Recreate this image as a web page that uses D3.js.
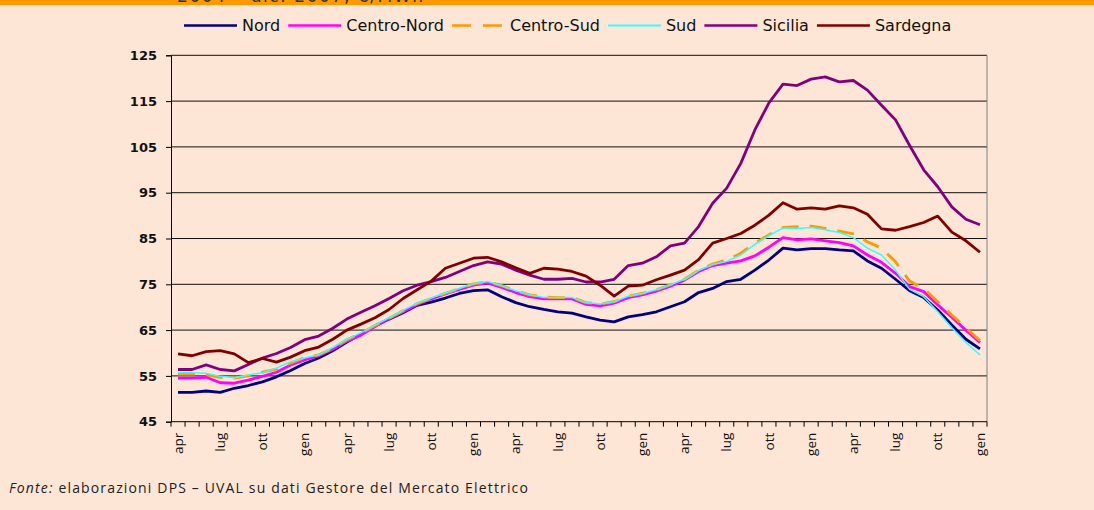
<!DOCTYPE html>
<html lang="it">
<head>
<meta charset="utf-8">
<title>Prezzi zonali</title>
<script src="https://cdn.jsdelivr.net/npm/d3@7"></script>
<style>
  body { margin: 0; background: #fde6d5; }
  svg { display: block; }
  .ytick text { font: bold 13px "DejaVu Sans", sans-serif; fill: #111; }
  .xlab { font: 13.5px "Open Sans", sans-serif; fill: #111; }
  .legend text { font: 16px "DejaVu Sans", sans-serif; fill: #111; }
</style>
</head>
<body>
<div id="chart"></div>
<script>
var width = 1094,
    height = 510;

// one entry per month, apr (first year) .. gen (last year)
var months = ["apr","mag","giu","lug","ago","set","ott","nov","dic","gen","feb","mar",
              "apr","mag","giu","lug","ago","set","ott","nov","dic","gen","feb","mar",
              "apr","mag","giu","lug","ago","set","ott","nov","dic","gen","feb","mar",
              "apr","mag","giu","lug","ago","set","ott","nov","dic","gen","feb","mar",
              "apr","mag","giu","lug","ago","set","ott","nov","dic","gen"];

var yTicks = [45, 55, 65, 75, 85, 95, 105, 115, 125];

var nord = [51.4, 51.4, 51.7, 51.4, 52.3, 52.9, 53.7, 54.8, 56.2, 57.7, 58.9, 60.5, 62.4, 64.1, 65.9, 67.4, 68.8, 70.4, 71.1, 72.0,
            73.0, 73.6, 73.8, 72.3, 71.0, 70.1, 69.5, 69.0, 68.7, 67.9, 67.2, 66.8, 67.9, 68.4, 69.0, 70.1,
            71.2, 73.2, 74.1, 75.6, 76.1, 78.1, 80.3, 82.9, 82.5, 82.8, 82.8, 82.5, 82.3, 80.1, 78.5, 76.1, 73.6, 72.1, 69.4, 66.1, 63.0, 60.9];
var centroNord = [54.5, 54.5, 54.7, 53.5, 53.4, 54.1, 54.9, 55.8, 57.4, 58.5, 59.4, 60.8, 62.6, 63.9, 65.8, 67.5, 69.0, 70.6, 71.8, 72.9,
            73.9, 74.8, 75.3, 74.3, 73.2, 72.3, 71.8, 71.8, 71.8, 70.6, 70.3, 70.9, 72.1, 72.7, 73.5, 74.6,
            75.9, 77.8, 79.1, 79.6, 80.1, 81.2, 83.1, 85.2, 84.7, 84.9, 84.5, 84.1, 83.4, 81.4, 79.8, 77.4, 74.5, 73.4, 70.5, 67.8, 65.0, 62.3];
var centroSud = [55.4, 55.4, 55.3, 54.7, 54.5, 55.0, 55.8, 56.5, 57.8, 59.0, 59.6, 61.0, 62.9, 64.3, 66.0, 67.6, 69.2, 70.8, 71.9, 73.0,
            74.1, 75.1, 75.6, 74.7, 73.6, 72.7, 72.2, 72.1, 72.1, 71.0, 70.7, 71.2, 72.4, 73.0, 73.8, 74.9,
            76.1, 78.1, 79.4, 80.3, 81.8, 84.0, 85.8, 87.4, 87.6, 87.7, 87.2, 86.6, 86.0, 84.3, 82.9, 79.9, 75.7, 74.1, 71.2, 68.3, 65.5, 62.7];
var sud = [55.7, 55.7, 55.6, 54.9, 54.6, 55.2, 55.7, 56.7, 58.1, 58.9, 59.6, 61.2, 63.0, 64.4, 66.1, 67.7, 69.3, 70.9, 72.0, 73.1,
            74.1, 75.1, 75.6, 74.7, 73.6, 72.7, 72.1, 72.1, 72.1, 71.0, 70.7, 71.2, 72.4, 73.0, 73.8, 74.9,
            76.1, 78.0, 79.3, 80.0, 81.4, 83.7, 85.6, 87.3, 87.2, 87.4, 86.9, 86.3, 85.2, 82.9, 81.4, 78.1, 73.9, 72.3, 69.0, 65.5, 62.3, 59.6];
var sicilia = [56.4, 56.4, 57.4, 56.4, 56.1, 57.5, 58.9, 59.9, 61.2, 62.9, 63.7, 65.4, 67.4, 68.9, 70.3, 71.9, 73.6, 74.8, 75.6, 76.5,
            77.8, 79.1, 79.9, 79.4, 78.1, 77.0, 76.1, 76.1, 76.3, 75.5, 75.5, 76.1, 79.1, 79.6, 81.0, 83.4,
            84.0, 87.6, 92.7, 96.0, 101.4, 108.7, 114.6, 118.7, 118.4, 119.8, 120.3, 119.2, 119.5, 117.4, 114.1, 110.9, 105.3, 100.0, 96.3, 91.9, 89.2, 88.0];
var sardegna = [59.8, 59.4, 60.3, 60.5, 59.8, 57.9, 58.8, 58.0, 59.1, 60.5, 61.3, 63.0, 65.0, 66.3, 67.7, 69.5, 71.9, 73.8, 75.7, 78.5,
            79.6, 80.7, 80.9, 79.9, 78.6, 77.4, 78.5, 78.3, 77.8, 76.8, 74.8, 72.4, 74.6, 74.8, 76.0, 77.0,
            78.1, 80.4, 84.0, 85.0, 86.1, 87.9, 90.1, 92.8, 91.4, 91.7, 91.4, 92.1, 91.7, 90.3, 87.1, 86.8, 87.6, 88.5, 89.9, 86.4, 84.5, 82.0];

var series = [
  {name: "Nord",        values: nord,       color: "#000080", w: 2.8},
  {name: "Centro-Nord", values: centroNord, color: "#ff00ff", w: 2.8},
  {name: "Centro-Sud",  values: centroSud,  color: "#ff9900", w: 2.8, dash: "17,11"},
  {name: "Sud",         values: sud,        color: "#33ffff", w: 1.5},
  {name: "Sicilia",     values: sicilia,    color: "#800080", w: 2.8},
  {name: "Sardegna",    values: sardegna,   color: "#800000", w: 2.8}
];

var plotL = 171, plotR = 987, plotT = 55.3, plotB = 421.7;

var svg = d3.select("#chart").append("svg")
    .attr("width", width)
    .attr("height", height);

// orange band and the clipped title above the chart
svg.append("rect").attr("x", 0).attr("y", 0).attr("width", width).attr("height", 5).attr("fill", "#ff9900");
svg.append("text")
    .attr("x", 177).attr("y", 1.5)
    .attr("textLength", 246)
    .style("font", "17px 'DejaVu Sans', sans-serif")
    .style("fill", "#333")
    .text("2004 – dic. 2007, €/MWh");

var x = d3.scaleBand()
    .domain(d3.range(months.length))
    .range([plotL, plotR])
    .padding(0);

var y = d3.scaleLinear()
    .domain([45, 125])
    .range([plotB, plotT]);

var cx = function(i) { return x(i) + x.bandwidth() / 2; };

// gridlines
svg.append("g")
  .selectAll("line")
  .data(yTicks.slice(1))
  .enter().append("line")
    .attr("x1", plotL).attr("x2", plotR)
    .attr("y1", function(d) { return y(d); })
    .attr("y2", function(d) { return y(d); })
    .attr("stroke", "#111")
    .attr("stroke-width", 1);

// right border of plot area
svg.append("line")
    .attr("x1", plotR).attr("x2", plotR)
    .attr("y1", plotT).attr("y2", plotB)
    .attr("stroke", "#808080");

// y axis
var yAxis = svg.append("g")
    .attr("class", "ytick")
    .attr("transform", "translate(" + plotL + ",0)")
    .call(d3.axisLeft(y).tickValues(yTicks).tickSize(5).tickPadding(9));
yAxis.select(".domain").attr("stroke", "#000");
yAxis.selectAll(".tick line").attr("stroke", "#000");

// x axis: line, ticks on category boundaries, labels every 3 months
svg.append("line")
    .attr("x1", plotL).attr("x2", plotR)
    .attr("y1", plotB).attr("y2", plotB)
    .attr("stroke", "#000");

svg.append("g")
  .selectAll("line")
  .data(d3.range(months.length + 1))
  .enter().append("line")
    .attr("x1", function(i) { return i < months.length ? x(i) : plotR; })
    .attr("x2", function(i) { return i < months.length ? x(i) : plotR; })
    .attr("y1", plotB).attr("y2", plotB + 5)
    .attr("stroke", "#000");

svg.append("g")
  .selectAll("text")
  .data(months.map(function(m, i) { return {m: m, i: i}; }).filter(function(d) { return d.i % 3 === 0; }))
  .enter().append("text")
    .attr("class", "xlab")
    .attr("text-anchor", "end")
    .attr("dy", "0.35em")
    .attr("transform", function(d) { return "translate(" + cx(d.i) + "," + (plotB + 11) + ") rotate(-90)"; })
    .text(function(d) { return d.m; });

// series
var line = d3.line()
    .x(function(d, i) { return cx(i); })
    .y(function(d) { return y(d); });

svg.append("g")
  .selectAll("path")
  .data(series)
  .enter().append("path")
    .attr("d", function(s) { return line(s.values); })
    .attr("fill", "none")
    .attr("stroke", function(s) { return s.color; })
    .attr("stroke-width", function(s) { return s.w; })
    .attr("stroke-dasharray", function(s) { return s.dash || null; })
    .attr("stroke-linejoin", "round");

// legend
var legend = svg.append("g").attr("class", "legend");
var lx = 184;
series.forEach(function(s) {
  legend.append("line")
      .attr("x1", lx).attr("x2", lx + 53)
      .attr("y1", 25.5).attr("y2", 25.5)
      .attr("stroke", s.color)
      .attr("stroke-width", s.w > 2 ? 2.5 : 2)
      .attr("stroke-dasharray", s.dash ? "19,12" : null);
  var t = legend.append("text")
      .attr("x", lx + 58).attr("y", 31)
      .text(s.name);
  lx = lx + 58 + t.node().getComputedTextLength() + 8;
});

// source note
var note = svg.append("text")
    .attr("x", 9).attr("y", 493)
    .style("font", "14px 'Open Sans', sans-serif")
    .style("letter-spacing", "1.15px")
    .style("fill", "#222");
note.append("tspan").style("font-style", "italic").text("Fonte:");
note.append("tspan").text(" elaborazioni DPS – UVAL su dati Gestore del Mercato Elettrico");
</script>
</body>
</html>
